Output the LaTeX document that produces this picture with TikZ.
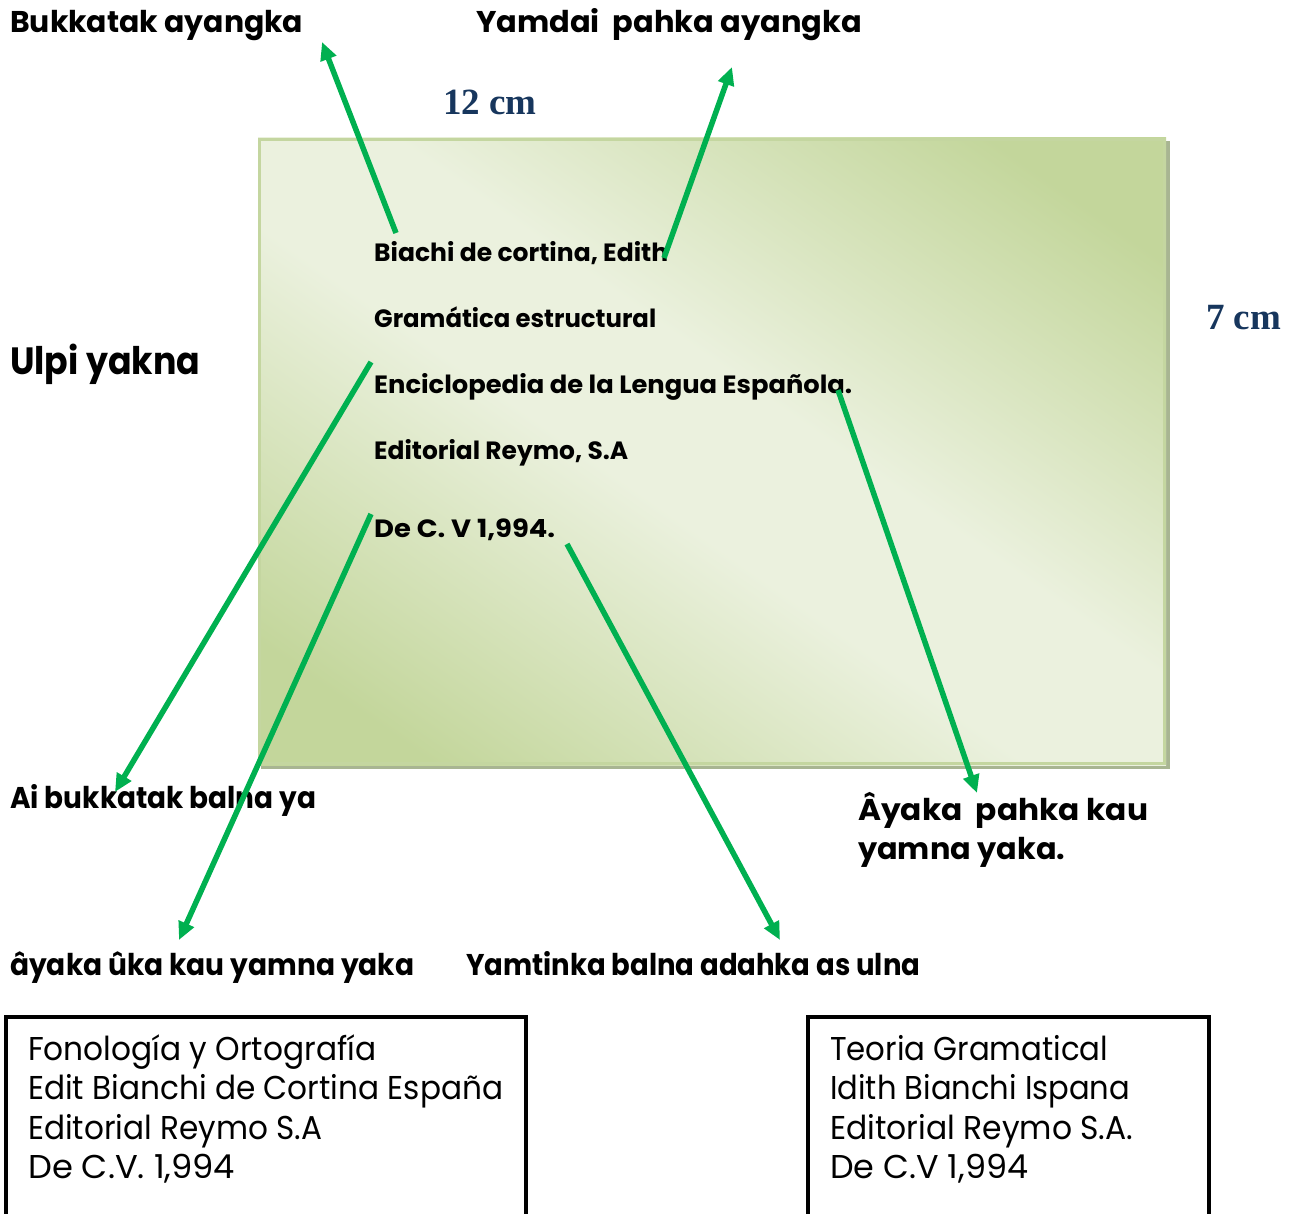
\documentclass[tikz,border=0pt]{standalone}
\usepackage{fontspec}
\setmainfont{Poppins}
\newfontfamily\timesf{Liberation Serif}
\usetikzlibrary{arrows.meta}
\definecolor{arrgreen}{RGB}{0,176,80}
\definecolor{cmblue}{RGB}{23,54,93}
\definecolor{carddark}{RGB}{195,214,155}
\definecolor{cardlight}{RGB}{235,241,222}
\definecolor{cardedge}{RGB}{196,214,160}
\definecolor{cardshadow}{RGB}{168,181,146}
\pgfdeclarehorizontalshading{cardshade}{100bp}{color(0bp)=(carddark); color(22bp)=(carddark); color(45bp)=(cardlight); color(55bp)=(cardlight); color(78bp)=(carddark); color(100bp)=(carddark)}
\newcommand\fitto[2]{\resizebox{#1pt}{\height}{#2}}
\begin{document}
\begin{tikzpicture}[x=1pt,y=-1pt,
  head/.style={anchor=base west, inner sep=0pt, font=\fontsize{30}{34}\selectfont\bfseries},
  big/.style={anchor=base west, inner sep=0pt, font=\fontsize{38}{42}\selectfont\bfseries},
  cardtxt/.style={anchor=base west, inner sep=0pt, font=\fontsize{25}{29}\selectfont\bfseries},
  boxtxt/.style={anchor=base west, inner sep=0pt, font=\fontsize{33}{37}\selectfont},
  cmtxt/.style={anchor=base west, inner sep=0pt, text=cmblue, font=\fontsize{37}{40}\selectfont\timesf\bfseries},
  arr/.style={draw=arrgreen, line width=5.5pt, -{Triangle[length=18pt,width=16pt]}},
  bookbox/.style={draw=black, line width=3.5pt}]
\useasboundingbox (0,0) rectangle (1298,1214);
% card
\fill[cardshadow] (261,141) rectangle (1170,769);
\shade[shading=cardshade, shading angle=55] (258,138) rectangle (1166,765);
\draw[cardedge, line width=3pt] (259.5,139.5) rectangle (1164.5,763.5);
% dimension labels
\node[cmtxt] (w) at (443,115) {12 cm};
\node[cmtxt] (h) at (1206,330) {7 cm};
% headings
\node[head] (bk) at (10,33) {\fitto{293}{Bukkatak ayangka}};
\node[head] (yp) at (476,33) {\fitto{386}{Yamdai\ \ pahka ayangka}};
\node[big] (uy) at (10,375) {\fitto{190}{Ulpi yakna}};
% card text
\node[cardtxt] (c1) at (374,262) {\fitto{294}{Biachi de cortina, Edith}};
\node[cardtxt] (c2) at (374,328) {\fitto{282}{Gramática estructural}};
\node[cardtxt] (c3) at (374,393) {\fitto{478}{Enciclopedia de la Lengua Española.}};
\node[cardtxt] (c4) at (374,459) {\fitto{254}{Editorial Reymo, S.A}};
\node[cardtxt] (c5) at (374,537) {\fitto{181}{De C. V 1,994.}};
% lower labels
\node[head] (ab) at (10,808) {\fitto{306}{Ai bukkatak balna ya}};
\node[head] (ap) at (858,820) {\fitto{290}{Âyaka\ \ pahka kau}};
\node[head] (ay) at (858,859) {\fitto{207}{yamna yaka.}};
\node[head] (au) at (10,975) {\fitto{404}{âyaka ûka kau yamna yaka}};
\node[head] (yb) at (466,975) {\fitto{454}{Yamtinka balna adahka as ulna}};
% arrow coordinates
\coordinate (s1) at (396,233); \coordinate (e1) at (322,42);
\coordinate (s2) at (664,258); \coordinate (e2) at (732,67);
\coordinate (s3) at (371,362); \coordinate (e3) at (115,792);
\coordinate (s4) at (371,514); \coordinate (e4) at (179,940);
\coordinate (s5) at (567,544); \coordinate (e5) at (780,940);
\coordinate (s6) at (838,390); \coordinate (e6) at (977,793);
\draw[arr] (s1) -- (e1);
\draw[arr] (s2) -- (e2);
\draw[arr] (s3) -- (e3);
\draw[arr] (s4) -- (e4);
\draw[arr] (s5) -- (e5);
\draw[arr] (s6) -- (e6);
% book boxes
\draw[bookbox] (6,1240) -- (6,1017) -- (526,1017) -- (526,1240);
\draw[bookbox] (808,1240) -- (808,1017) -- (1209,1017) -- (1209,1240);
\node[boxtxt] (l1) at (28,1060) {\fitto{348}{Fonología y Ortografía}};
\node[boxtxt] (l2) at (28,1099) {\fitto{475}{Edit Bianchi de Cortina España}};
\node[boxtxt] (l3) at (28,1139) {\fitto{294}{Editorial Reymo S.A}};
\node[boxtxt] (l4) at (28,1178) {\fitto{207}{De C.V. 1,994}};
\node[boxtxt] (r1) at (830,1060) {\fitto{278}{Teoria Gramatical}};
\node[boxtxt] (r2) at (830,1099) {\fitto{300}{Idith Bianchi Ispana}};
\node[boxtxt] (r3) at (830,1139) {\fitto{303}{Editorial Reymo S.A.}};
\node[boxtxt] (r4) at (830,1178) {\fitto{198}{De C.V 1,994}};
\end{tikzpicture}
\end{document}
